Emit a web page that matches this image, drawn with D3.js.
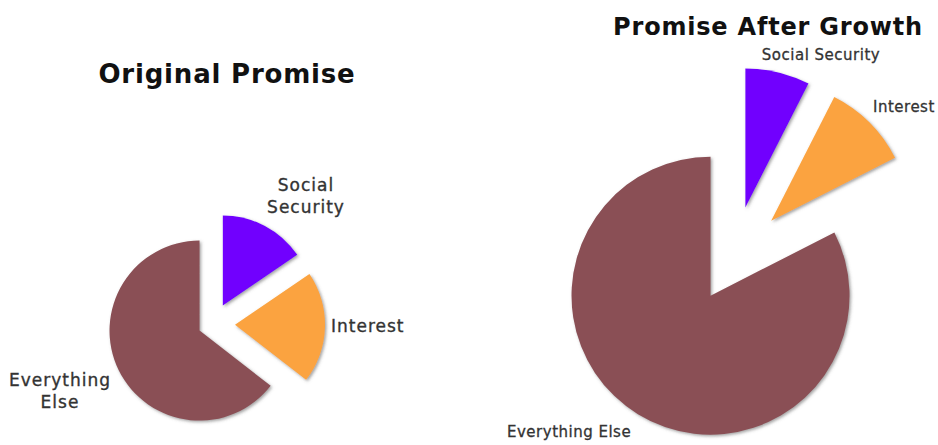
<!DOCTYPE html>
<html>
<head>
<meta charset="utf-8">
<script src="https://cdn.jsdelivr.net/npm/d3@7"></script>
<style>
  body { margin: 0; background: #fff; }
</style>
</head>
<body>
<div class="container"></div>
<script>
// chart size
const width = 938;
const height = 445;

// the data for both pies
const categories = ["Social Security", "Interest", "Everything Else"];
const originalValues = [15.5, 20, 64.5];
const afterGrowthValues = [7.5, 10, 82.5];
const titles = ["Original Promise", "Promise After Growth"];
const colors = ["#7100fe", "#fba33f", "#8a4f55"];

// select the container and append the svg
const svg = d3.select(".container")
  .append("svg")
  .attr("width", width)
  .attr("height", height)
  .style("font-family", "'DejaVu Sans', Verdana, sans-serif");

// soft grey shadow under every slice
const filter = svg.append("defs")
  .append("filter")
  .attr("id", "shadow")
  .attr("x", "-20%").attr("y", "-20%")
  .attr("width", "140%").attr("height", "140%");
filter.append("feDropShadow")
  .attr("dx", 1.5)
  .attr("dy", 1.5)
  .attr("stdDeviation", 1.5)
  .attr("flood-color", "#555")
  .attr("flood-opacity", 0.55);

// pie layout: start at 12 o'clock and go clockwise, keep data order
const pie = d3.pie().sort(null).value(d => d);

// draw one exploded pie
function drawPie(values, cx, cy, radius, explode) {
  const arc = d3.arc().innerRadius(0).outerRadius(radius);
  const g = svg.append("g")
    .attr("transform", `translate(${cx}, ${cy})`);

  g.selectAll("path")
    .data(pie(values))
    .join("path")
    .attr("d", arc)
    .attr("fill", (d, i) => colors[i])
    .attr("filter", "url(#shadow)")
    .attr("transform", (d, i) => {
      // push each slice out along its middle angle
      const mid = (d.startAngle + d.endAngle) / 2;
      const dx = Math.sin(mid) * explode[i];
      const dy = -Math.cos(mid) * explode[i];
      return `translate(${dx}, ${dy})`;
    });
}

drawPie(originalValues, 213, 324, 90, [21, 22, 15]);
drawPie(afterGrowthValues, 733, 259, 139, [53, 54, 43]);

// titles
svg.append("text")
  .attr("x", 227).attr("y", 83)
  .attr("text-anchor", "middle")
  .attr("font-size", 26).attr("font-weight", "bold")
  .attr("letter-spacing", 0.8)
  .attr("fill", "#111")
  .text(titles[0]);

svg.append("text")
  .attr("x", 768).attr("y", 35)
  .attr("text-anchor", "middle")
  .attr("font-size", 24).attr("font-weight", "bold")
  .attr("letter-spacing", 0.8)
  .attr("fill", "#111")
  .text(titles[1]);

// labels for the left pie (bigger, some on two lines)
const leftLabels = [
  { lines: ["Social", "Security"], x: 306, y: 191, anchor: "middle" },
  { lines: ["Interest"], x: 331, y: 332, anchor: "start" },
  { lines: ["Everything", "Else"], x: 60, y: 386, anchor: "middle" }
];

leftLabels.forEach((lab, i) => {
  const t = svg.append("text")
    .attr("x", lab.x).attr("y", lab.y)
    .attr("text-anchor", lab.anchor)
    .attr("font-size", 17)
    .attr("letter-spacing", 1)
    .attr("fill", "#333")
    .attr("stroke", "#333")
    .attr("stroke-width", 0.35);
  lab.lines.forEach((line, j) => {
    t.append("tspan")
      .attr("x", lab.x)
      .attr("dy", j === 0 ? 0 : 21.5)
      .text(line);
  });
});

// labels for the right pie
const rightLabels = [
  { x: 821, y: 60, anchor: "middle" },
  { x: 873, y: 112, anchor: "start" },
  { x: 507, y: 437, anchor: "start" }
];

svg.append("g")
  .selectAll("text")
  .data(rightLabels)
  .join("text")
  .attr("x", d => d.x)
  .attr("y", d => d.y)
  .attr("text-anchor", d => d.anchor)
  .attr("font-size", 15)
  .attr("letter-spacing", 0.5)
  .attr("fill", "#333")
  .attr("stroke", "#333")
  .attr("stroke-width", 0.3)
  .text((d, i) => categories[i]);
</script>
</body>
</html>
